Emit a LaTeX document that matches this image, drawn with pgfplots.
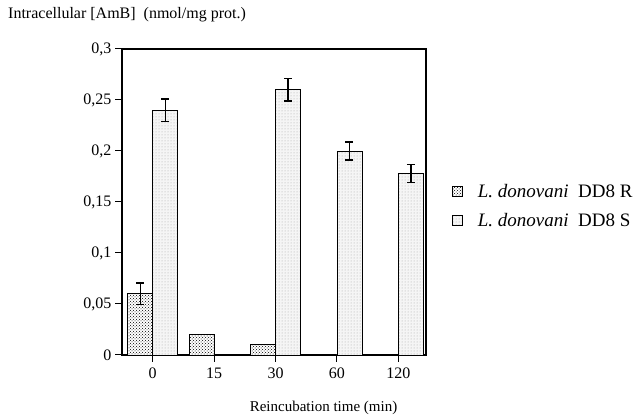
\documentclass[border=0pt]{standalone}
\usepackage{pgfplots}
\pgfplotsset{compat=1.18}
\usepackage{fontspec}
\setmainfont{Liberation Serif}
\usetikzlibrary{patterns}
\begin{document}
\begin{tikzpicture}[x=1pt,y=1pt]
\useasboundingbox (0,0) rectangle (634,417);
\begin{axis}[
  at={(122pt,62pt)}, anchor=south west,
  scale only axis, width=304pt, height=306pt,
  ymin=0, ymax=0.3,
  xmin=-0.5, xmax=4.45,
  ytick={0,0.05,0.1,0.15,0.2,0.25,0.3},
  xtick={0,1,2,3,4},
  xticklabels={0,15,30,60,120},
  yticklabel style={/pgf/number format/.cd, use comma, fixed, precision=2},
  /pgf/number format/assume math mode=true,
  tick label style={font=\fontsize{16}{18}\selectfont},
  xticklabel style={yshift=-2pt},
  tick align=outside, major tick length=7pt,
  tick style={black, line width=1pt},
  axis line style={line width=1.1pt},
  xtick pos=bottom, ytick pos=left,
  ybar=0pt, bar width=25pt,
  legend style={at={(1.085,0.487)}, anchor=west, draw=none, fill=none,
    row sep=12pt, inner sep=0pt, font=\fontsize{19}{21}\selectfont,
    nodes={inner sep=1pt}},
  legend cell align=left,
  legend image code/.code={\draw[#1, line width=0.8pt] (0pt,-5pt) rectangle (10pt,5pt);},
  error bars/y dir=both, error bars/y explicit,
  error bars/error bar style={line width=1.3pt, black},
  error bars/error mark options={rotate=90, mark size=4pt, line width=1.4pt, black},
]
\addplot[draw=black, line width=0.8pt, fill=white, postaction={pattern=crosshatch dots, pattern color=black}]
 coordinates {(0,0.06) +- (0,0.0105) (1,0.02) +- (0,0) (2,0.01) +- (0,0)};
\addlegendentry{\hspace{14pt}\textit{L. donovani}\ \ DD8 R}
\addplot[draw=black, line width=0.8pt, fill=gray!8, postaction={pattern=dots, pattern color=gray!70}]
 coordinates {(0,0.24) +- (0,0.011) (2,0.26) +- (0,0.011) (3,0.2) +- (0,0.009) (4,0.178) +- (0,0.009)};
\addlegendentry{\hspace{14pt}\textit{L. donovani}\ \ DD8 S}
\end{axis}
\node[anchor=base west, inner sep=0pt, font=\fontsize{16}{18}\selectfont] at (8,398) {Intracellular [AmB]\ \ (nmol/mg prot.)};
\node[anchor=base, inner sep=0pt, font=\fontsize{15}{18}\selectfont] at (323.5,5) {Reincubation time (min)};
\end{tikzpicture}
\end{document}
